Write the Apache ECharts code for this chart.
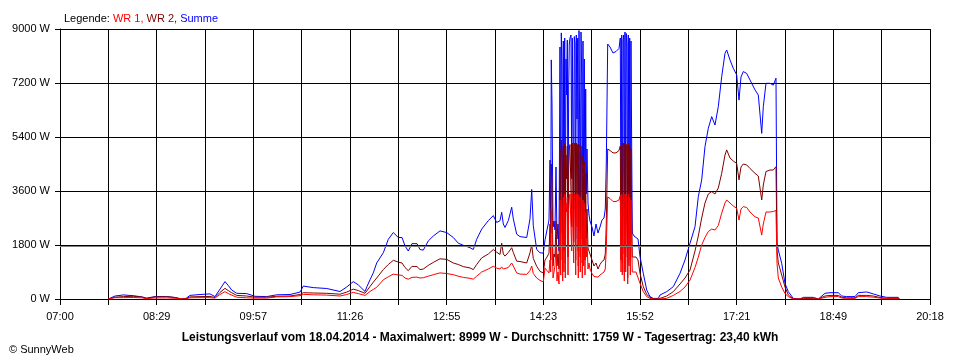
<!DOCTYPE html>
<html>
<head>
<meta charset="utf-8">
<script src="https://cdn.jsdelivr.net/npm/echarts@6/dist/echarts.min.js"></script>
<style>
html,body{margin:0;padding:0;background:#fff;}
#chart{width:960px;height:360px;}
</style>
</head>
<body>
<div id="chart"></div>
<script>
// ---- data (time of day, W) ----
const times = [
"07:44:18","07:45:52","07:50:27","07:58:04","08:07:14","08:14:56","08:19:31","08:27:08","08:37:52","08:45:29",
"08:51:38","08:55:34","08:59:14","09:08:25","09:17:35","09:22:10","09:26:46","09:31:20","09:34:22","09:37:29",
"09:42:05","09:51:15","09:58:52","10:09:35","10:18:46","10:30:58","10:40:08","10:43:10","10:52:20","11:04:38",
"11:16:50","11:22:58","11:29:02","11:33:37","11:39:46","11:41:35","11:44:20","11:47:22","11:50:29","11:56:32",
"12:01:08","12:05:43","12:10:18","12:13:42","12:16:27","12:19:28","12:22:52","12:27:27","12:30:13","12:33:14",
"12:37:49","12:42:25","12:48:33","12:54:42","13:00:45","13:05:20","13:09:55","13:16:04","13:19:06","13:22:13",
"13:26:48","13:32:51","13:37:26","13:40:34","13:43:35","13:45:08","13:46:37","13:48:10","13:51:12","13:54:19",
"13:55:47","13:58:54","14:01:56","14:08:05","14:11:06","14:12:40","14:14:08","14:17:15","14:20:17","14:23:18",
"14:24:52","14:26:42","14:28:32","14:29:27","14:30:05","14:30:38","14:31:17","14:32:12","14:33:07","14:34:02",
"14:34:57","14:35:52","14:36:47","14:37:42","14:38:37","14:39:16","14:39:49","14:40:27","14:41:06","14:41:39",
"14:42:17","14:42:56","14:43:29","14:44:07","14:44:46","14:45:19","14:45:58","14:46:36","14:47:09","14:47:47",
"14:48:43","14:49:21","14:49:54","14:50:32","14:51:11","14:51:44","14:52:23","14:53:01","14:53:34","14:54:13",
"14:54:51","14:55:24","14:56:03","14:56:41","14:57:14","14:57:53","14:58:31","14:59:04","14:59:43","15:00:22",
"15:00:55","15:01:33","15:02:11","15:02:44","15:03:23","15:04:18","15:05:13","15:06:08","15:07:58","15:09:49",
"15:11:38","15:13:29","15:15:19","15:17:08","15:18:59","15:20:10","15:21:05","15:21:44","15:22:22","15:24:29",
"15:27:14","15:29:59","15:32:44","15:33:56","15:34:34","15:35:13","15:35:46","15:36:25","15:37:03","15:37:36",
"15:38:14","15:38:53","15:39:26","15:40:05","15:40:43","15:41:16","15:41:55","15:42:33","15:43:06","15:43:44",
"15:44:23","15:44:56","15:46:30","15:48:20","15:50:10","15:52:00","15:55:02","15:58:09","16:01:10","16:04:12",
"16:08:47","16:10:20","16:16:29","16:22:32","16:28:41","16:33:17","16:37:52","16:42:27","16:45:29","16:48:35",
"16:51:37","16:54:39","16:57:46","17:00:47","17:03:49","17:06:56","17:09:58","17:11:31","17:14:33","17:17:35",
"17:20:42","17:22:49","17:24:38","17:26:45","17:29:52","17:32:54","17:37:29","17:40:31","17:43:38","17:45:06",
"17:47:34","17:51:14","17:54:16","17:56:44","17:57:40","17:58:52","18:01:58","18:05:00","18:08:02","18:12:37",
"18:18:46","18:21:47","18:30:58","18:35:33","18:41:41","18:46:17","18:53:53","18:57:01","19:01:35","19:09:13",
"19:12:14","19:19:56","19:25:59","19:32:08","19:38:17","19:48:56","19:49:50"
];
const summe = [
0,60,100,135,110,70,30,80,80,50,
0,20,120,150,170,80,330,580,450,300,
190,180,90,80,140,150,230,430,380,350,
250,400,580,470,250,415,640,870,1200,1540,
1990,2215,2050,2050,1770,1600,1845,1845,1650,1630,
1935,2100,2270,2215,2050,1860,1790,1710,1650,1990,
2330,2610,2780,2550,2610,2890,2500,2385,2610,3060,
2670,2160,2080,2050,2670,3650,2440,1650,1540,1530,
1970,2300,2630,4630,2200,7970,6500,2400,2600,2300,
4400,2000,2500,1600,8400,2200,8870,7800,1530,8600,
2500,8700,2000,8000,6800,8630,2500,7100,8500,8700,
8800,4000,8700,8650,3000,8750,8500,2000,8800,6000,
8700,1600,8950,8999,2500,8900,7500,2000,8600,3000,
8000,2300,7000,3500,5000,3200,2800,2600,2400,2100,
2500,2200,2400,2630,2700,3000,4500,6500,8500,8400,
8200,8250,8350,8700,2200,8800,2000,8600,8800,1500,
8900,2500,8850,8500,1200,8800,3000,8700,2100,8600,
5000,2200,2100,2150,2000,1410,855,300,78,20,
20,133,245,410,855,1300,1855,2410,3410,3970,
5080,5690,6080,5800,6410,7410,8190,8300,7970,7690,
7470,6630,7400,7580,7520,7300,6970,6800,5520,6410,
7190,7190,7130,7360,1855,1630,1190,520,245,20,
0,55,55,0,190,210,210,100,80,80,
210,235,170,100,55,55,0
];
const wr2 = [
0,30,60,80,90,70,20,70,80,50,
0,10,70,80,85,50,220,355,280,210,
120,100,60,60,90,100,150,210,200,190,
160,230,330,280,190,240,415,560,700,980,
1150,1290,1230,1200,1050,945,1090,1080,980,1000,
1120,1220,1340,1320,1200,1150,1080,1035,980,1150,
1370,1500,1650,1560,1485,1860,1500,1430,1550,1710,
1550,1260,1250,1200,1540,1800,1350,1090,920,870,
1300,1400,1530,2500,1300,4500,3800,1100,1500,1400,
2600,1100,1500,1000,5000,1300,5300,4600,1000,5100,
1600,5200,1200,4800,4000,5100,1400,4300,5000,5150,
5200,2400,5200,5150,1900,5200,5100,1300,5200,3500,
5150,1100,5150,5200,1400,5100,4500,1200,4800,1700,
4600,1300,4200,2000,3000,1700,1600,1500,1300,1100,
1200,1000,1150,1250,1300,1500,2500,3800,5000,4950,
4870,4870,4950,5100,1300,5200,1200,5100,5200,900,
5200,1400,5150,5000,700,5200,1700,5100,1300,5000,
2800,1400,1350,1400,1300,855,410,150,60,0,
0,50,100,245,500,700,965,1600,2100,2700,
3200,3500,3580,3500,3700,4190,4800,4970,4700,4600,
4520,3970,4400,4500,4470,4350,4190,4100,3300,3800,
4250,4300,4300,4410,1630,1200,800,400,135,0,
0,20,20,0,100,120,120,60,40,40,
120,120,100,50,20,20,0
];
const wr1 = [
0,20,45,45,50,40,10,35,35,25,
0,5,40,45,45,30,150,245,180,130,
60,40,30,30,70,80,110,155,140,130,
100,150,220,180,120,150,250,320,390,640,
740,830,800,790,700,660,720,730,700,710,
760,810,870,850,810,760,720,690,660,760,
900,1000,1090,1030,1000,1070,1000,960,1050,1200,
1100,870,830,820,950,1100,850,700,620,570,
1030,950,870,1300,900,3000,2600,700,900,1100,
1800,600,900,500,3300,800,3500,3100,600,3400,
900,3500,700,3200,2900,3400,800,3000,3400,3500,
3500,1600,3500,3450,1200,3500,3400,800,3500,2400,
3500,700,3450,3500,900,3400,3000,700,3300,1100,
3200,800,2900,1400,2000,1000,1200,1000,850,750,
800,730,800,850,900,1000,1700,2600,3400,3350,
3250,3250,3300,3450,900,3500,800,3400,3500,600,
3500,900,3450,3400,500,3500,1100,3400,800,3300,
1900,900,900,900,870,520,245,80,20,0,
0,10,20,120,250,400,630,1050,1400,1800,
2050,2250,2330,2300,2450,2860,3200,3300,3200,3100,
3020,2630,3000,3080,3050,2900,2740,2700,2130,2500,
2900,2900,2920,2950,1190,700,400,180,80,0,
0,0,0,0,55,80,80,30,20,20,
80,80,60,30,10,10,0
];
const yTicks = [0, 1800, 3600, 5400, 7200, 9000];
const dayStart = "07:00:00";
const dayEnd = "20:18:00";
const average = 1759;
const titleText = "Leistungsverlauf vom 18.04.2014 - Maximalwert: 8999 W - Durchschnitt: 1759 W - Tagesertrag: 23,40 kWh";

// ---- helpers ----
function secs(t){ const p = t.split(':').map(Number); return p[0]*3600 + p[1]*60 + (p[2]||0); }
const t0 = secs(dayStart), t1 = secs(dayEnd);
const span = t1 - t0;            // 47880 s
const tickStep = span / 18;      // 2660 s
function pts(vals){ return times.map((t,i)=>[secs(t)-t0, vals[i]]); }
function fmtTime(v){
  const k = Math.round(v / tickStep);
  if (k % 2) return '';
  const m = Math.round((v + t0) / 60);
  const h = Math.floor(m/60), mm = m % 60;
  return String(h).padStart(2,'0') + ':' + String(mm).padStart(2,'0');
}

const font = '"Liberation Sans", Arial, sans-serif';
const chart = echarts.init(document.getElementById('chart'), null, {renderer:'canvas'});
chart.setOption({
  animation: false,
  backgroundColor: '#ffffff',
  textStyle: {fontFamily: font},
  title: [{
    left: 59, top: 8,
    text: '{a|Legende: }{b|WR 1, }{c|WR 2, }{d|Summe}',
    textStyle: {
      fontSize: 11, fontWeight: 'normal', fontFamily: font,
      rich: {
        a: {color:'#000000', fontSize: 11, fontFamily: font},
        b: {color:'#ff0000', fontSize: 11, fontFamily: font},
        c: {color:'#800000', fontSize: 11, fontFamily: font},
        d: {color:'#0000ff', fontSize: 11, fontFamily: font}
      }
    }
  },{
    left: 'center', top: 327,
    text: titleText,
    textStyle: {fontSize: 12, fontWeight: 'bold', color:'#000', fontFamily: font}
  },{
    left: 4, top: 339,
    text: '\u00A9 SunnyWeb',
    textStyle: {fontSize: 11, fontWeight: 'normal', color:'#000', fontFamily: font}
  }],
  grid: {left: 60, right: 30, top: 29, bottom: 61, containLabel: false},
  xAxis: {
    type: 'value', min: 0, max: span, interval: tickStep,
    axisLine: {show: true, onZero: false, lineStyle: {color:'#000', width: 1}},
    axisTick: {show: true, length: 6, lineStyle: {color:'#000'}},
    axisLabel: {formatter: fmtTime, color:'#000', fontSize: 11, margin: 12, fontFamily: font, showMinLabel: true, showMaxLabel: true},
    splitLine: {show: true, lineStyle: {color:'#000', width: 1}}
  },
  yAxis: {
    type: 'value', min: yTicks[0], max: yTicks[yTicks.length-1], interval: yTicks[1]-yTicks[0],
    axisLine: {show: true, lineStyle: {color:'#000', width: 1}},
    axisTick: {show: true, length: 5, lineStyle: {color:'#000'}},
    axisLabel: {formatter: function(v){ return v + ' W'; }, color:'#000', fontSize: 11, margin: 10, fontFamily: font},
    splitLine: {show: true, lineStyle: {color:'#000', width: 1}}
  },
  series: [
    {name:'Summe', type:'line', data: pts(summe), showSymbol:false, symbol:'none',
     lineStyle:{color:'#0000ff', width:1}, itemStyle:{color:'#0000ff'}, z: 2,
     markLine: {silent: true, symbol: ['none','none'], label:{show:false},
       lineStyle:{color:'#808080', width:1, type:'solid'}, data:[{yAxis: average}]}},
    {name:'WR 2', type:'line', data: pts(wr2), showSymbol:false, symbol:'none',
     lineStyle:{color:'#800000', width:1}, itemStyle:{color:'#800000'}, z: 3},
    {name:'WR 1', type:'line', data: pts(wr1), showSymbol:false, symbol:'none',
     lineStyle:{color:'#ff0000', width:1}, itemStyle:{color:'#ff0000'}, z: 4}
  ]
});
</script>
</body>
</html>
